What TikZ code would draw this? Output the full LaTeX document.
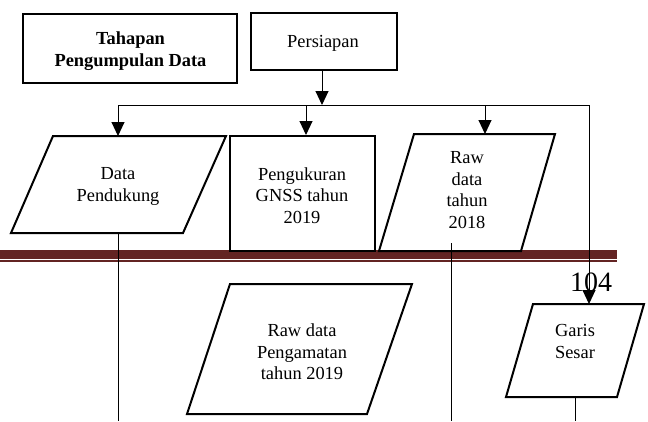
\documentclass[tikz,border=0pt]{standalone}
\usepackage{fontspec}
\setmainfont{Liberation Serif}
\usetikzlibrary{arrows.meta}
\definecolor{barred}{RGB}{99,36,35}
\begin{document}
\begin{tikzpicture}[x=1pt,y=-1pt,
  boxline/.style={draw=black,line width=2pt},
  rectbox/.style={boxline,fill=white,inner sep=0pt,align=center,font=\fontsize{18.4}{21.5}\selectfont},
  txt/.style={inner sep=0pt,align=center,font=\fontsize{18.4}{21.5}\selectfont},
  conn/.style={draw=black,line width=1pt},
  arr/.style={conn,-{Triangle[width=13pt,length=14pt]}},
]
\useasboundingbox (0,0) rectangle (648,421);
% page header bar
\fill[barred] (0,250) rectangle (617,258.5);
\fill[barred] (0,260) rectangle (617,261.7);
% page number
\node[inner sep=0pt,font=\fontsize{28}{28}\selectfont] (pg) at (591,282) {104};

% top boxes
\node[rectbox,minimum width=214pt,minimum height=69pt] (tah) at (130,48.5) {};
\node[txt,font=\fontsize{18.4}{21.5}\selectfont\bfseries] (tahT) at (130.5,51) {Tahapan\\Pengumpulan Data};
\node[rectbox,minimum width=146pt,minimum height=57pt] (per) at (324,41.5) {};
\node[txt] (perT) at (323,43) {Persiapan};

% junction coordinates
\coordinate (j) at (322,105);
\coordinate (hl) at (118,105);
\coordinate (hr) at (589,105);
\coordinate (j2) at (306,105);
\coordinate (j3) at (485,105);

% process box
\node[rectbox,minimum width=145pt,minimum height=115pt] (gnss) at (302.5,193.5) {};
\node[txt] (gnssT) at (302,195.5) {Pengukuran\\GNSS tahun\\2019};

% parallelograms
\draw[boxline,fill=white] (53,136) -- (226,136) -- (183,233) -- (11,233) -- cycle;
\coordinate (dpT) at (118,136);
\coordinate (dpB) at (118,233);
\node[txt] (dp) at (118,186.5) {Data\\Pendukung};

\draw[boxline,fill=white] (414,134) -- (555,134) -- (521,251) -- (379,251) -- cycle;
\coordinate (r18T) at (485,134);
\coordinate (r18B) at (451,243);
\node[txt] (r18) at (467,190) {Raw\\data\\tahun\\2018};

\draw[boxline,fill=white] (230,284) -- (412,284) -- (367,414) -- (187,414) -- cycle;
\node[txt] (rp) at (302,352) {Raw data\\Pengamatan\\tahun 2019};

\draw[boxline,fill=white] (533,304) -- (644,304) -- (617,397) -- (506,397) -- cycle;
\coordinate (gsT) at (589,304);
\coordinate (gsB) at (575,397);
\node[txt] (gs) at (575,341.5) {Garis\\Sesar};

% bottom free ends
\coordinate (e1) at (118,421);
\coordinate (e2) at (451,421);
\coordinate (e3) at (575,421);

% connectors
\draw[arr] (per.south -| j) -- (j);
\draw[conn] (hl) -- (hr);
\draw[arr] (hl) -- (dpT);
\draw[arr] (j2) -- (gnss.north -| j2);
\draw[arr] (j3) -- (r18T);
\draw[arr] (hr) -- (gsT);
\draw[conn] (dpB) -- (e1);
\draw[conn] (r18B) -- (e2);
\draw[conn] (gsB) -- (e3);
\end{tikzpicture}
\end{document}
